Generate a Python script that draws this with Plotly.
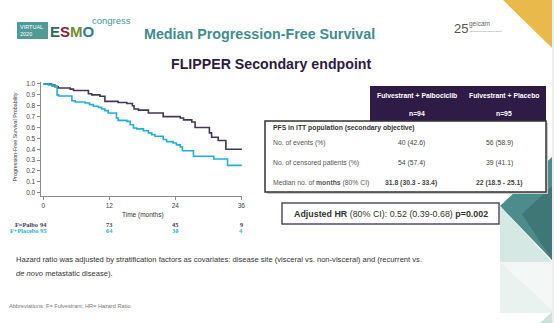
import plotly.graph_objects as go

W, H = 554, 323

# Kaplan-Meier steps: month of each step and survival after it
palbo_t = [0, 1.5, 2.1, 2.7, 4.9, 5.5, 8.2, 8.8, 10.3, 11.2, 13.6, 15.2, 16.2, 16.5, 17.3,
           19.1, 21.8, 24.9, 25.5, 27.0, 27.6, 30.2, 30.6, 31.8, 33.2, 36.1]
palbo_s = [1.0, 0.99, 0.975, 0.963, 0.953, 0.94, 0.91, 0.90, 0.887, 0.84, 0.83, 0.82, 0.80, 0.77, 0.76,
           0.733, 0.70, 0.687, 0.67, 0.65, 0.60, 0.55, 0.51, 0.48, 0.40, 0.40]
placebo_t = [0, 0.9, 1.6, 2.5, 2.8, 5.2, 5.8, 7.6, 8.4, 9.1, 10.0, 10.6, 11.2, 11.8, 13.3, 13.6,
             15.2, 15.8, 16.4, 17.0, 18.2, 19.1, 19.7, 20.3, 21.8, 22.4, 23.6, 24.2, 24.9, 25.3,
             27.3, 31.0, 33.5, 36.1]
placebo_s = [1.0, 0.99, 0.98, 0.90, 0.89, 0.846, 0.834, 0.825, 0.81, 0.795, 0.785, 0.77, 0.755, 0.733,
             0.687, 0.665, 0.656, 0.625, 0.595, 0.587, 0.57, 0.55, 0.534, 0.52, 0.49, 0.47, 0.457,
             0.44, 0.42, 0.386, 0.335, 0.31, 0.252, 0.252]

# Numbers at risk
risk_months = [0, 12, 24, 36]
risk_palbo = [94, 73, 45, 9]
risk_placebo = [95, 64, 30, 4]
x_ticks = [0, 12, 24, 36]

# Summary table
col_headers = ["Fulvestrant + Palbociclib", "Fulvestrant + Placebo"]
col_n = ["n=94", "n=95"]
section_label = "PFS in ITT population (secondary objective)"
row_labels = ["No. of events (%)", "No. of censored patients (%)",
              "Median no. of <b>months</b> (80% CI)"]
palbo_vals = ["40 (42.6)", "54 (57.4)", "<b>31.8 (30.3 - 33.4)</b>"]
placebo_vals = ["56 (58.9)", "39 (41.1)", "<b>22 (18.5 - 25.1)</b>"]
hr_text = "<b>Adjusted HR</b> (80% CI): 0.52 (0.39-0.68) <b>p=0.002</b>"

PURPLE = "#453656"
CYAN = "#1fb1d3"
FONT = "Liberation Sans, Arial, sans-serif"
SERIF = "Liberation Serif, Times New Roman, serif"


def px(x):
    return x / W


def py(y):
    return 1 - y / H


fig = go.Figure()
fig.add_trace(go.Scatter(x=palbo_t, y=palbo_s, mode="lines", line_shape="hv",
                         line=dict(color=PURPLE, width=1.6), name="F+Palbo"))
fig.add_trace(go.Scatter(x=placebo_t, y=placebo_s, mode="lines", line_shape="hv",
                         line=dict(color=CYAN, width=1.6), name="F+Placebo"))

shapes = []
ann = []


def text(x, y, s, size, color="#333", anchor="left", family=FONT, **kw):
    ann.append(dict(xref="paper", yref="paper", x=px(x), y=py(y), text=s, showarrow=False,
                    xanchor=anchor, yanchor="middle", borderpad=0,
                    font=dict(size=size, color=color, family=family), **kw))


def rect(x0, y0, x1, y1, fill, line=None, lw=0):
    shapes.append(dict(type="rect", xref="paper", yref="paper", x0=px(x0), x1=px(x1),
                       y0=py(y1), y1=py(y0), fillcolor=fill,
                       line=dict(color=line or fill, width=lw), layer="below" if lw == 0 else "above"))


def poly(pts, fill):
    d = "M " + " L ".join(f"{px(a)},{py(b)}" for a, b in pts) + " Z"
    shapes.append(dict(type="path", xref="paper", yref="paper", path=d, fillcolor=fill,
                       line=dict(width=0), layer="below"))


# Decorative corner shapes
poly([(503, 0), (552, 0), (552, 48)], "#e9b94b")
rect(552, 0, 554, 323, "#ededed")
poly([(500, 206), (552, 157), (552, 260)], "#4c8c8a")
poly([(522, 214), (552, 186), (552, 260)], "#3e7775")
poly([(500, 206), (500, 262), (552, 262)], "#d5e8e3")
poly([(500, 262), (552, 262), (552, 313), (500, 313)], "#e9f2ef")
poly([(500, 262), (552, 262), (552, 310)], "#f3f8f6")
poly([(552, 312), (552, 323), (540, 323)], "#c9e1db")

# Conference logo
rect(17, 22, 48, 39, "#4f9b98")
text(18.5, 27.5, "VIRTUAL", 5.5, "white")
text(18.5, 34, "2020", 5.5, "white")
text(48.5, 31, '<b><span style="color:#2d6a52">E</span><span style="color:#8b1c42">S</span>'
     '<span style="color:#6f8f2a">M</span><span style="color:#2e7c8c">O</span></b>', 15, "#2d6a52")
text(91, 20.5, "congress", 9.5, "#4a9a9a")

# Group logo
text(453, 28, "25", 13, "#555")
text(468, 24.5, "geicam", 6.5, "#666")
text(468.5, 31, "spanish breast cancer group", 2.5, "#888")

# Titles
text(259, 34, "<b>Median Progression-Free Survival</b>", 14.3, "#3f8d8c", anchor="center")
text(271, 64, "<b>FLIPPER Secondary endpoint</b>", 14.2, "#2d1b3d", anchor="center")

# Axis titles and risk table
text(14.5, 137, "Progression-Free Survival Probability", 5.4, "#444", anchor="center", textangle=-90)
text(143, 215, "Time (months)", 6.5, "#333", anchor="center")
text(38.5, 224.3, "<b>F=Palbo</b>", 6.3, PURPLE, anchor="right", family=SERIF)
text(38.5, 230.3, "<b>F+Placebo</b>", 6.3, CYAN, anchor="right", family=SERIF)
for m, a, b in zip(risk_months, risk_palbo, risk_placebo):
    ann.append(dict(xref="x", yref="paper", x=m, y=py(224.3), text=f"<b>{a}</b>", showarrow=False,
                    xanchor="center", yanchor="middle", font=dict(size=6.3, color=PURPLE, family=SERIF)))
    ann.append(dict(xref="x", yref="paper", x=m, y=py(230.3), text=f"<b>{b}</b>", showarrow=False,
                    xanchor="center", yanchor="middle", font=dict(size=6.3, color=CYAN, family=SERIF)))

# Summary table
rect(267, 123, 548, 194, "#c8c8c8")
rect(370, 86, 546, 121, "#2e1b46")
rect(265, 121, 546, 192, "white", "#333333", 1.5)
rect(266.5, 122.8, 544.5, 133, "#d9d9d9")
col_x = [416.5, 504]
val_x = [411, 499]
for cx, h, n in zip(col_x, col_headers, col_n):
    text(cx, 95.5, f"<b>{h}</b>", 6.8, "white", anchor="center")
    text(cx, 113, f"<b>{n}</b>", 6.8, "white", anchor="center")
text(271.5, 128, f"<b>{section_label}</b>", 6.8, "#333")
row_y = [143.3, 163.3, 182.7]
for ry, lab, a, b in zip(row_y, row_labels, palbo_vals, placebo_vals):
    text(271.5, ry, lab, 6.8, "#555")
    text(val_x[0], ry, a, 6.8, "#444", anchor="center")
    text(val_x[1], ry, b, 6.8, "#444", anchor="center")

# Hazard ratio box
rect(282, 203, 499, 224, "white", "#5b4a6b", 1.5)
text(390.5, 213.5, hr_text, 8.9, "#333", anchor="center")

# Footnotes
text(15, 259, "Hazard ratio was adjusted by stratification factors as covariates: disease site "
              "(visceral vs. non-visceral) and (recurrent vs.", 7.6, "#333")
text(15, 273, "<i>de novo</i> metastatic disease).", 7.6, "#333")
text(8, 306, "Abbreviations: F= Fulvestrant; HR= Hazard Ratio", 5.6, "#777")

axis_common = dict(showline=True, linecolor="#8a8a8a", linewidth=1, ticks="outside", ticklen=3,
                   tickcolor="#8a8a8a", showgrid=False, zeroline=False, automargin=False,
                   tickfont=dict(size=6.5, color="#444", family=FONT))
fig.update_layout(
    width=W, height=H, margin=dict(l=0, r=0, t=0, b=0),
    paper_bgcolor="white", plot_bgcolor="white", showlegend=False,
    xaxis=dict(domain=[px(40.55), px(242.4)], range=[-0.5, 36.2], tickvals=x_ticks, **axis_common),
    yaxis=dict(domain=[py(196), py(81.8)], range=[-0.03, 1.02], tickvals=[i / 10 for i in range(11)],
               tickformat=".1f", **axis_common),
    shapes=shapes, annotations=ann,
)

fig.write_html("out.html")
